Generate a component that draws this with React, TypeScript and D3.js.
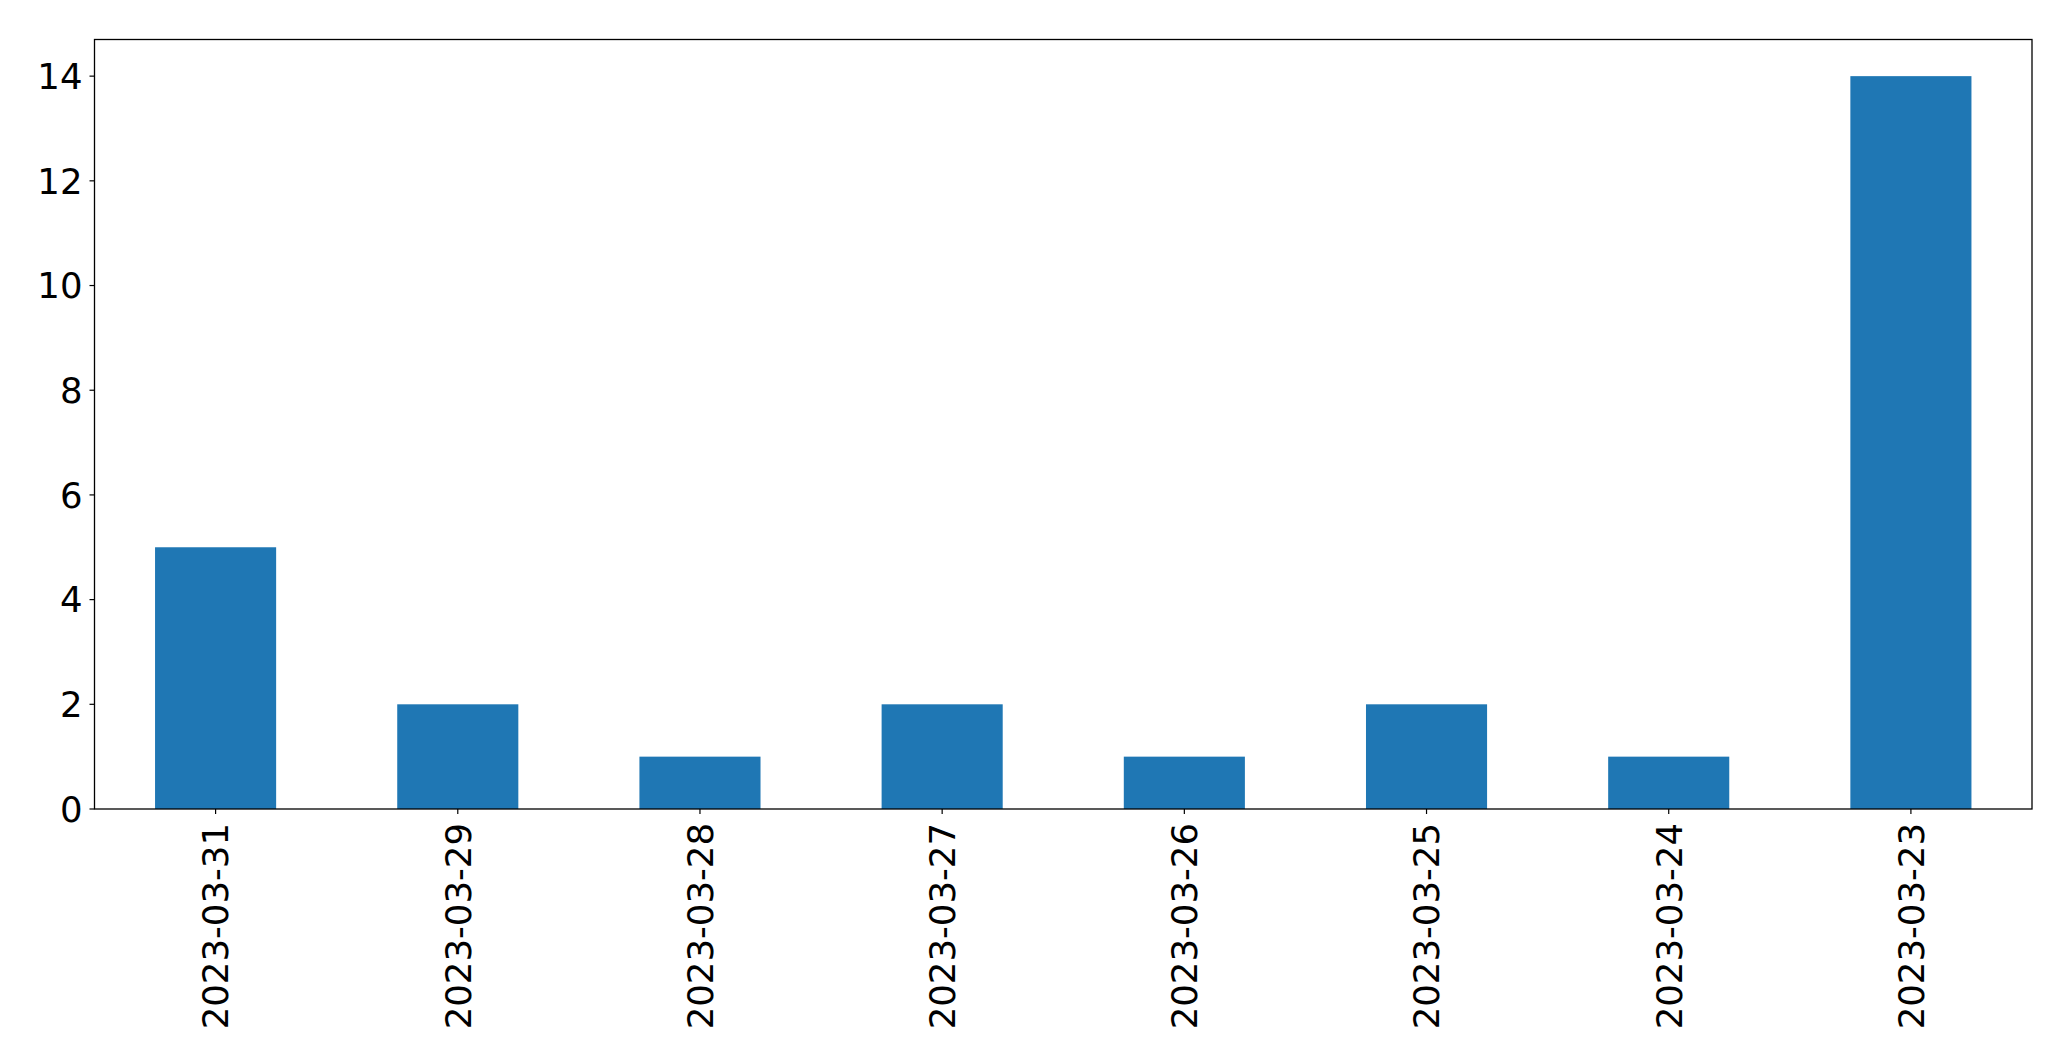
import React from "react";
import * as d3 from "d3";

const categories = ["2023-03-31", "2023-03-29", "2023-03-28", "2023-03-27", "2023-03-26", "2023-03-25", "2023-03-24", "2023-03-23"];
const values = [5, 2, 1, 2, 1, 2, 1, 14];
const yTicks = [0, 2, 4, 6, 8, 10, 12, 14];

const W = 2071, H = 1061;
const left = 94.5, right = 2032, top = 39.5, bottom = 809;

export default function App() {
  const x = d3.scaleLinear().domain([-0.5, categories.length - 0.5]).range([left, right]);
  const y = d3.scaleLinear().domain([0, 14.7]).range([bottom, top]);
  const font = "'DejaVu Sans', sans-serif";
  return (
    <svg width={W} height={H} style={{ position: "absolute", left: 0, top: 0, background: "#fff" }}>
      <rect x={0} y={0} width={W} height={H} fill="#fff" />
      {values.map((v, i) => (
        <rect key={i} x={x(i - 0.25)} y={y(v)} width={x(i + 0.25) - x(i - 0.25)} height={y(0) - y(v)} fill="#1f77b4" />
      ))}
      <rect x={left} y={top} width={right - left} height={bottom - top} fill="none" stroke="#000" strokeWidth={1.3} />
      {yTicks.map((t) => (
        <g key={t}>
          <line x1={left - 5} x2={left} y1={y(t)} y2={y(t)} stroke="#000" strokeWidth={1.2} />
          <text x={left - 12} y={y(t)} dy="0.36em" textAnchor="end" fontFamily={font} fontSize={35.5} fill="#000">{t}</text>
        </g>
      ))}
      {categories.map((c, i) => (
        <g key={c}>
          <line x1={x(i)} x2={x(i)} y1={bottom} y2={bottom + 5} stroke="#000" strokeWidth={1.2} />
          <text transform={`translate(${x(i)},${bottom + 14}) rotate(-90)`} dy="0.36em" textAnchor="end" fontFamily={font} fontSize={35.5} fill="#000">{c}</text>
        </g>
      ))}
    </svg>
  );
}
